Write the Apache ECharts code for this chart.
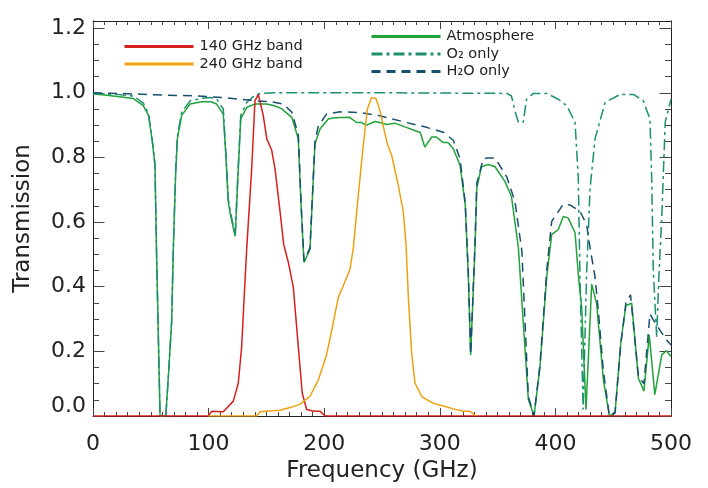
<!DOCTYPE html>
<html>
<head>
<meta charset="utf-8">
<script src="https://cdn.jsdelivr.net/npm/echarts@6/dist/echarts.min.js"></script>
<style>html,body{margin:0;padding:0;background:#fff;}#c{width:708px;height:488px;}</style>
</head>
<body>
<div id="c"></div>
<script>
// ---- data ----
const atmFreq = [0,3,10,23,35,43.5,48,51,53.6,55,56.5,58,63,65.5,68,69.5,71.5,73,76.7,84,94,102,107,112.7,115,117,119,123,125.5,127.8,133,140,150,157,163,172,177.6,180,182.5,187.7,192,196.4,203.5,209,222,228,232,236.7,244,248,254,261,271,280,283,287,293,297,303,307,311.7,317.5,322,324.7,326.7,330.4,332,336,342,347.8,356.4,362,368,372,376.6,381.5,386.7,392.5,396.8,402.5,406.8,411,417,420,422.7,426.5,431.4,435.7,441.5,446.7,451.6,456.5,461,466,471.8,476.6,481.2,486,492,496,500];
const atmTrans = [0.997,0.995,0.993,0.988,0.982,0.96,0.93,0.858,0.776,0.5,0.25,0,0,0.14,0.29,0.52,0.75,0.858,0.93,0.965,0.972,0.972,0.965,0.934,0.8,0.664,0.62,0.556,0.75,0.919,0.955,0.965,0.965,0.96,0.951,0.924,0.858,0.65,0.475,0.515,0.842,0.888,0.919,0.923,0.924,0.908,0.908,0.9,0.911,0.908,0.902,0.906,0.893,0.881,0.878,0.832,0.863,0.863,0.846,0.846,0.827,0.776,0.653,0.43,0.189,0.52,0.704,0.771,0.778,0.771,0.725,0.679,0.52,0.3,0.051,0,0.153,0.43,0.561,0.577,0.617,0.613,0.567,0.43,0.337,0.02,0.408,0.347,0.112,0,0.01,0.225,0.342,0.349,0.117,0.077,0.25,0.066,0.189,0.202,0.184];

const o2Freq = [0,20,35,43.5,48,51,53.6,55,56.5,58,63,65.5,68,69.5,71.5,73,76.7,84,94,102,107,112.7,115,117,119,123,125.5,127.8,133,140,145,160,250,358,362,365,368,372.2,375,381,392.5,402.5,409.8,417,419.8,421.3,424,427,430,434.3,443,456,467.4,476,481.8,483.3,484.7,487.6,489.5,492,495,500];
const o2Trans = [0.998,0.995,0.99,0.968,0.935,0.862,0.78,0.5,0.25,0,0,0.14,0.29,0.52,0.76,0.865,0.94,0.975,0.983,0.985,0.98,0.95,0.81,0.67,0.63,0.56,0.76,0.93,0.97,0.993,0.998,1.0,1.0,0.998,0.99,0.944,0.909,0.909,0.98,0.998,0.998,0.98,0.96,0.909,0.735,0.43,0.02,0.44,0.704,0.858,0.97,0.995,0.995,0.975,0.919,0.735,0.45,0.245,0.43,0.613,0.909,0.98];

const h2oFreq = [0,30,60,90,113,141.6,155,164.6,172,177.6,180,182.5,187.7,192,195,202,213.7,231,248,271,288.6,303,311.7,317.5,322,324.7,326.7,330.4,332,337.6,340.5,347.8,357.9,365,371,376.6,381.5,386.7,392.5,396.8,406.8,412.6,421.3,427,430,434.3,437,441.5,446.7,451.6,456.5,461,465,471.8,476.6,481.8,486,493.3,496.8,500];
const h2oTrans = [1.0,0.997,0.993,0.99,0.985,0.975,0.972,0.965,0.94,0.87,0.66,0.48,0.52,0.85,0.898,0.934,0.941,0.939,0.929,0.908,0.893,0.878,0.853,0.796,0.66,0.44,0.19,0.53,0.72,0.796,0.798,0.798,0.74,0.664,0.51,0.06,0,0.16,0.45,0.602,0.655,0.653,0.633,0.592,0.52,0.43,0.33,0.14,0,0.01,0.22,0.35,0.375,0.122,0.1,0.316,0.29,0.25,0.233,0.22];

const band140Freq = [0,99.8,102.7,112.7,121.4,125.7,128.6,131.5,133,137.3,140.1,143,147.3,150.3,154.6,157.4,161.8,165,169,173.3,177.6,181,184.8,191,196.4,200.7,500];
const band140Trans = [0,0,0.015,0.013,0.046,0.102,0.214,0.419,0.52,0.766,0.975,0.995,0.929,0.858,0.822,0.766,0.633,0.53,0.475,0.398,0.214,0.071,0.02,0.015,0.015,0,0];

const band240Freq = [100,141.6,144.5,161.8,170.4,179,187.7,195,202,206.5,212.2,216.5,222.3,225.2,229.5,233.8,237.3,241,244.8,248.3,251,254.6,258.4,264,268.4,270.8,272.8,275.7,278.5,284.3,288.6,294.4,303,311.7,320.3,326,331.3];
const band240Trans = [0,0,0.013,0.018,0.026,0.036,0.061,0.112,0.189,0.265,0.367,0.403,0.454,0.52,0.684,0.837,0.949,0.985,0.982,0.944,0.898,0.842,0.806,0.715,0.633,0.531,0.367,0.194,0.102,0.061,0.051,0.039,0.031,0.022,0.015,0.015,0];

const xTickStep = 100;
const yMajorTicks = [0,0.2,0.4,0.6,0.8,1.0,1.2];
const yMinorTicks = [0.05,0.1,0.15,0.25,0.3,0.35,0.45,0.5,0.55,0.65,0.7,0.75,0.85,0.9,0.95,1.05,1.1,1.15];

// ---- build chart ----
const zip = (xs, ys) => xs.map((x, i) => [x, ys[i]]);
const FONT = 'DejaVu Sans';
const TXT = '#222';
const AX = '#222';

function xAx(pos, showLabel) {
  return {
    type: 'value', position: pos, min: 0, max: 500, interval: xTickStep,
    axisLine: {show: true, onZero: false, lineStyle: {color: AX, width: 1}},
    axisTick: {show: true, inside: true, length: 8, lineStyle: {color: '#444'}},
    minorTick: {show: true, splitNumber: 10, length: 4, lineStyle: {color: '#444'}},
    splitLine: {show: false}, minorSplitLine: {show: false},
    axisLabel: {show: showLabel, fontFamily: FONT, fontSize: 22, color: TXT, margin: 17},
    name: showLabel ? 'Frequency (GHz)' : '', nameLocation: 'middle', nameGap: 44,
    nameTextStyle: {fontFamily: FONT, fontSize: 23, color: TXT}
  };
}
function yAx(pos, major, showLabel) {
  return {
    type: 'value', position: pos, min: 0, max: 1.222,
    axisLine: {show: true, onZero: false, lineStyle: {color: AX, width: 1}},
    axisTick: {show: true, inside: true, length: major ? 11.5 : 6,
      customValues: major ? yMajorTicks : yMinorTicks, lineStyle: {color: '#444'}},
    splitLine: {show: false},
    axisLabel: {show: showLabel, customValues: yMajorTicks, fontFamily: FONT, fontSize: 22, color: TXT, margin: 7,
      formatter: v => (Math.abs(v) < 1e-9 ? '{z|0.0}' : v.toFixed(1)),
      rich: {z: {fontFamily: FONT, fontSize: 22, color: TXT, padding: [0, 0, 20, 0]}}},
    name: showLabel ? 'Transmission' : '', nameLocation: 'middle', nameGap: 58,
    nameTextStyle: {fontFamily: FONT, fontSize: 23, color: TXT}
  };
}

const chart = echarts.init(document.getElementById('c'), null, {renderer: 'canvas'});
const lineBase = {type: 'line', symbol: 'none', showSymbol: false, smooth: false, animation: false, xAxisIndex: 0, yAxisIndex: 0};
const legendCommon = {orient: 'vertical', itemWidth: 69, itemHeight: 14, itemGap: 2.5,
  lineStyle: {width: 3}, itemStyle: {opacity: 0, borderWidth: 0}, selectedMode: false,
  textStyle: {fontFamily: FONT, fontSize: 14.5, color: TXT, lineHeight: 14, padding: [0, 0, 0, 1]}};
chart.setOption({
  animation: false,
  backgroundColor: '#fff',
  grid: {left: 93, right: 37, top: 21, bottom: 68, containLabel: false},
  xAxis: [xAx('bottom', true), xAx('top', false)],
  yAxis: [yAx('left', true, true), yAx('left', false, false), yAx('right', true, false), yAx('right', false, false)],
  legend: [
    Object.assign({}, legendCommon, {data: ['140 GHz band', '240 GHz band'], left: 118, top: 34}),
    Object.assign({}, legendCommon, {data: ['Atmosphere', 'O₂ only', 'H₂O only'], left: 365, top: 24})
  ],
  series: [
    Object.assign({}, lineBase, {name: 'Atmosphere', data: zip(atmFreq, atmTrans), z: 2,
      lineStyle: {color: '#22a23a', width: 1.5}, itemStyle: {color: '#22a23a'}}),
    Object.assign({}, lineBase, {name: 'O₂ only', data: zip(o2Freq, o2Trans), z: 3,
      lineStyle: {color: '#1b8f70', width: 1.5, type: [11, 4, 3, 4]}, itemStyle: {color: '#1b8f70'}}),
    Object.assign({}, lineBase, {name: 'H₂O only', data: zip(h2oFreq, h2oTrans), z: 4,
      lineStyle: {color: '#17506e', width: 1.5, type: [9, 6]}, itemStyle: {color: '#17506e'}}),
    Object.assign({}, lineBase, {name: '140 GHz band', data: zip(band140Freq, band140Trans), z: 5,
      lineStyle: {color: '#d6201c', width: 1.5}, itemStyle: {color: '#d6201c'}}),
    Object.assign({}, lineBase, {name: '240 GHz band', data: zip(band240Freq, band240Trans), z: 6,
      lineStyle: {color: '#efa012', width: 1.5}, itemStyle: {color: '#efa012'}})
  ]
});
</script>
</body>
</html>
